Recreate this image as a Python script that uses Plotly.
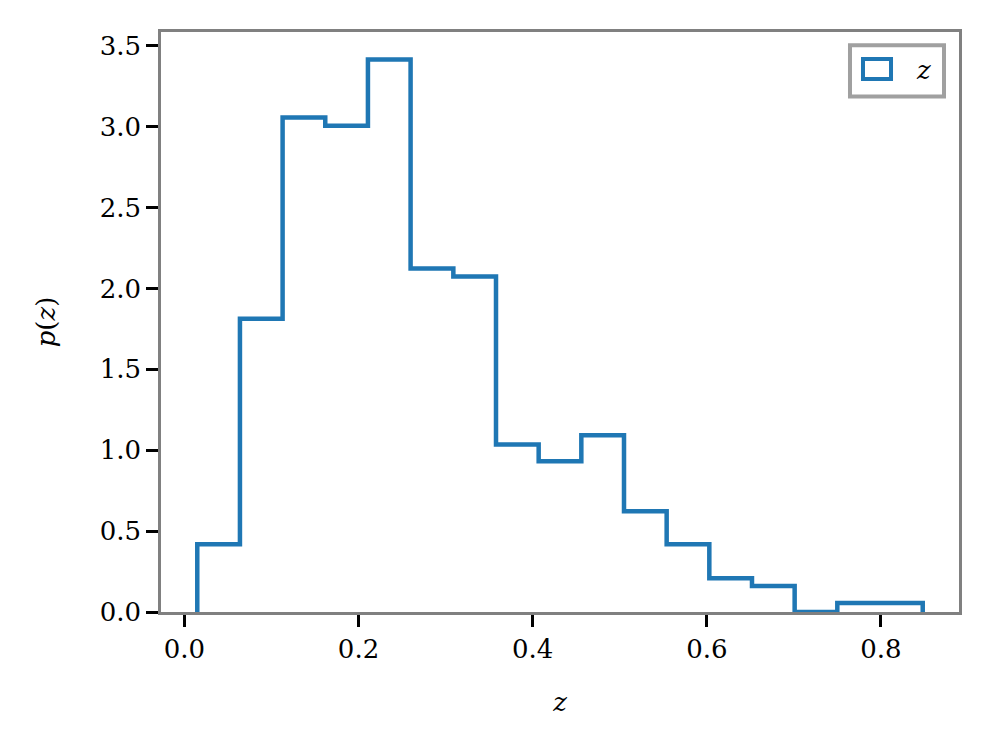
import plotly.graph_objects as go

# Histogram (density) bin edges and heights
bin_edges = [0.0148, 0.0638, 0.1128, 0.1618, 0.2108, 0.2598, 0.3089, 0.3579,
             0.4069, 0.4559, 0.5049, 0.5539, 0.6029, 0.6519, 0.7009, 0.7499,
             0.7990, 0.8480]
densities = [0.418, 1.813, 3.056, 3.006, 3.414, 2.123, 2.074, 1.036, 0.932,
             1.093, 0.623, 0.418, 0.208, 0.160, 0.0, 0.055, 0.055]
x_ticks = [0.0, 0.2, 0.4, 0.6, 0.8]
x_tick_labels = ["0.0", "0.2", "0.4", "0.6", "0.8"]
y_ticks = [0.0, 0.5, 1.0, 1.5, 2.0, 2.5, 3.0, 3.5]
y_tick_labels = ["0.0", "0.5", "1.0", "1.5", "2.0", "2.5", "3.0", "3.5"]
series_name = "z"

BLUE = "#1f77b4"
FONT = "DejaVu Serif"
FS = 26

# step outline: start at baseline, rise, step across each bin, fall to baseline
step_x = [bin_edges[0]] + bin_edges[:-1] + [bin_edges[-1]]
step_y = [0.0] + densities + [0.0]

fig = go.Figure()
fig.add_trace(go.Scatter(
    x=step_x, y=step_y, mode="lines", line_shape="hv",
    line=dict(color=BLUE, width=4.5), name=series_name, showlegend=False,
    hoverinfo="skip",
))

# data-range padding like matplotlib (5% margins in x, sticky 0 in y)
x_lo, x_hi = bin_edges[0], bin_edges[-1]
pad = 0.05 * (x_hi - x_lo)
y_hi = max(densities) * 1.05

axis_common = dict(
    showline=True, linecolor="#808080", linewidth=2.5, mirror=True,
    ticks="outside", ticklen=12, tickwidth=2.6, tickcolor="black",
    showgrid=False, zeroline=False,
    tickfont=dict(family=FONT, size=FS, color="black"),
)

# the page body adds an 8px margin, so the figure is 8px smaller each way
fig.update_layout(
    width=982, height=742,
    margin=dict(l=153, r=31, t=24, b=138),
    paper_bgcolor="white", plot_bgcolor="white",
    font=dict(family=FONT, size=FS, color="black"),
    xaxis=dict(range=[x_lo - pad, x_hi + pad], tickvals=x_ticks,
               ticktext=x_tick_labels,
               title=dict(text="<i>z</i>", font=dict(family=FONT, size=FS),
                          standoff=30),
               **axis_common),
    yaxis=dict(range=[0, y_hi], tickvals=y_ticks, ticktext=y_tick_labels,
               title=dict(text="<i>p</i>(<i>z</i>)",
                          font=dict(family=FONT, size=FS), standoff=37),
               **axis_common),
    showlegend=False,
)

# legend drawn in paper coordinates (frame, empty-patch icon, label)
fig.add_shape(type="rect", xref="paper", yref="paper",
              x0=0.8634, x1=0.9812, y0=0.889, y1=0.977,
              line=dict(color="#a0a0a0", width=4), fillcolor="white",
              layer="above")
fig.add_shape(type="rect", xref="paper", yref="paper",
              x0=0.8797, x1=0.9148, y0=0.919, y1=0.9534,
              line=dict(color=BLUE, width=4), fillcolor="white",
              layer="above")
fig.add_annotation(xref="paper", yref="paper", x=0.955, y=0.934,
                   text="<i>" + series_name + "</i>", showarrow=False,
                   font=dict(family=FONT, size=FS, color="black"),
                   xanchor="center", yanchor="middle")

fig.write_html("out.html")
